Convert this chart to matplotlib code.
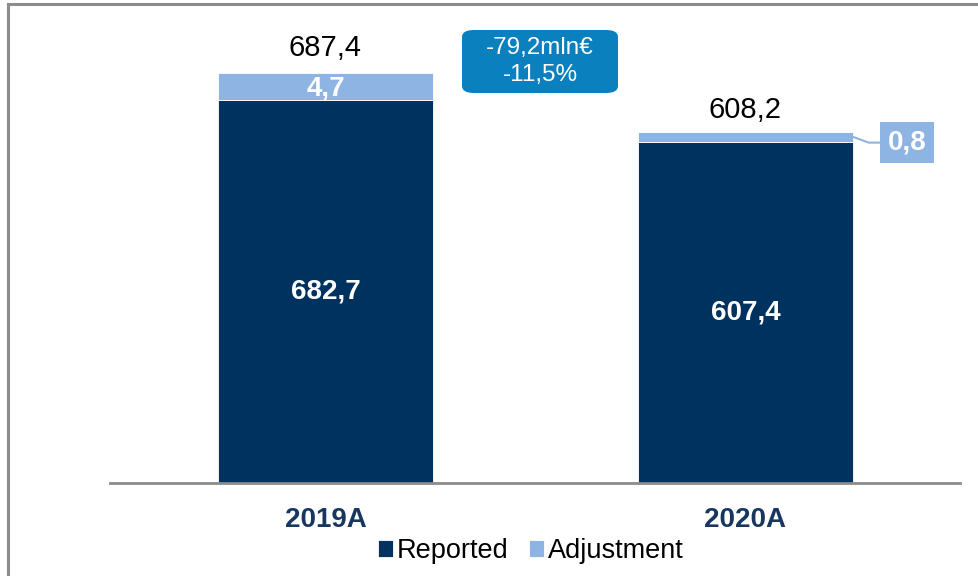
import matplotlib
matplotlib.use("Agg")
import matplotlib.pyplot as plt
from matplotlib.patches import FancyBboxPatch
from matplotlib.lines import Line2D

plt.rcParams['font.family'] = ['Liberation Sans', 'DejaVu Sans']

# ---- data ----
categories = ["2019A", "2020A"]
reported_values = [682.7, 607.4]
adjustment_values = [4.7, 0.8]
total_values = [687.4, 608.2]
# bar heights as drawn in the reference (segments are not to scale with labels)
reported_heights = [642, 572]
adjustment_heights = [45, 17]
delta_text = "-79,2mln€\n-11,5%"
series_names = ["Reported", "Adjustment"]

NAVY = "#00325F"
LIGHT = "#8EB4E3"
BOXBLUE = "#0A80BE"
CATNAVY = "#17375E"

def fmt(v):
    return f"{v:.1f}".replace(".", ",")

W, H = 979, 576
fig = plt.figure(figsize=(W / 100, H / 100), dpi=100)
ax = fig.add_axes([110 / W, (H - 483) / H, 850 / W, 483 / H])

x = list(range(len(categories)))
bw = 0.512
b1 = ax.bar(x, reported_heights, width=bw, color=NAVY, edgecolor="white", linewidth=0.6,
            label=series_names[0], zorder=2)
b2 = ax.bar(x, adjustment_heights, width=bw, bottom=reported_heights, color=LIGHT,
            edgecolor="white", linewidth=0.6, label=series_names[1], zorder=2)

ax.set_xlim(-0.513, 1.511)
ax.set_ylim(0, 810)

for s in ["top", "right", "left"]:
    ax.spines[s].set_visible(False)
ax.spines["bottom"].set_color("#8C8C8C")
ax.spines["bottom"].set_linewidth(2)
ax.set_yticks([])
ax.set_xticks(x)
ax.set_xticklabels(categories, fontsize=20, fontweight="bold", color=CATNAVY)
ax.tick_params(axis="x", length=0, pad=17)

# inner labels
for i in x:
    ax.text(i, reported_heights[i] / 2, fmt(reported_values[i]), ha="center", va="center",
            color="white", fontsize=20, fontweight="bold", zorder=3)

# adjustment 2019 inside the light segment
ax.text(0, reported_heights[0] + adjustment_heights[0] / 2 - 3, fmt(adjustment_values[0]),
        ha="center", va="center", color="white", fontsize=20, fontweight="bold", zorder=3)

# totals above
ax.text(0, reported_heights[0] + adjustment_heights[0] + 42, fmt(total_values[0]),
        ha="center", va="center", color="black", fontsize=21)
ax.text(1, reported_heights[1] + adjustment_heights[1] + 37, fmt(total_values[1]),
        ha="center", va="center", color="black", fontsize=21)

# adjustment 2020 callout
y_adj = reported_heights[1] + adjustment_heights[1] / 2
ax.annotate(fmt(adjustment_values[1]), xy=(1 + bw / 2, y_adj), xytext=(1.3845, 570.8),
            ha="center", va="center", color="white", fontsize=20, fontweight="bold",
            bbox=dict(boxstyle="square,pad=0.27", fc=LIGHT, ec="none"),
            arrowprops=dict(arrowstyle="-", color=LIGHT, lw=1.5,
                            connectionstyle="angle,angleA=0,angleB=160,rad=0",
                            shrinkA=0, shrinkB=0),
            zorder=4, annotation_clip=False)

# delta box (figure pixel coords)
bx0, by0, bx1, by1 = 462, 30, 618, 93
box = FancyBboxPatch((bx0 / W, 1 - by1 / H), (bx1 - bx0) / W, (by1 - by0) / H,
                     boxstyle="round,pad=0,rounding_size=0.012",
                     transform=fig.transFigure, fc=BOXBLUE, ec="none", zorder=5)
fig.add_artist(box)
fig.text((bx0 + bx1) / 2 / W, 1 - (by0 + by1) / 2 / H, delta_text, ha="center", va="center",
         color="white", fontsize=17.5, linespacing=1.25, zorder=6)

# legend
fig.legend(handles=[b1, b2], labels=series_names, loc="center",
           bbox_to_anchor=(531 / W, 1 - 551 / H), ncol=2, frameon=False, fontsize=19.5,
           handlelength=0.55, handleheight=0.55, handletextpad=0.15, columnspacing=0.75)

# border
fig.add_artist(Line2D([8 / W, 1], [1 - 4 / H, 1 - 4 / H], transform=fig.transFigure,
                      color="#8C8C8C", lw=2.2))
fig.add_artist(Line2D([8 / W, 8 / W], [0, 1 - 4 / H], transform=fig.transFigure,
                      color="#8C8C8C", lw=2.2))

fig.savefig("out.png", dpi=100)
